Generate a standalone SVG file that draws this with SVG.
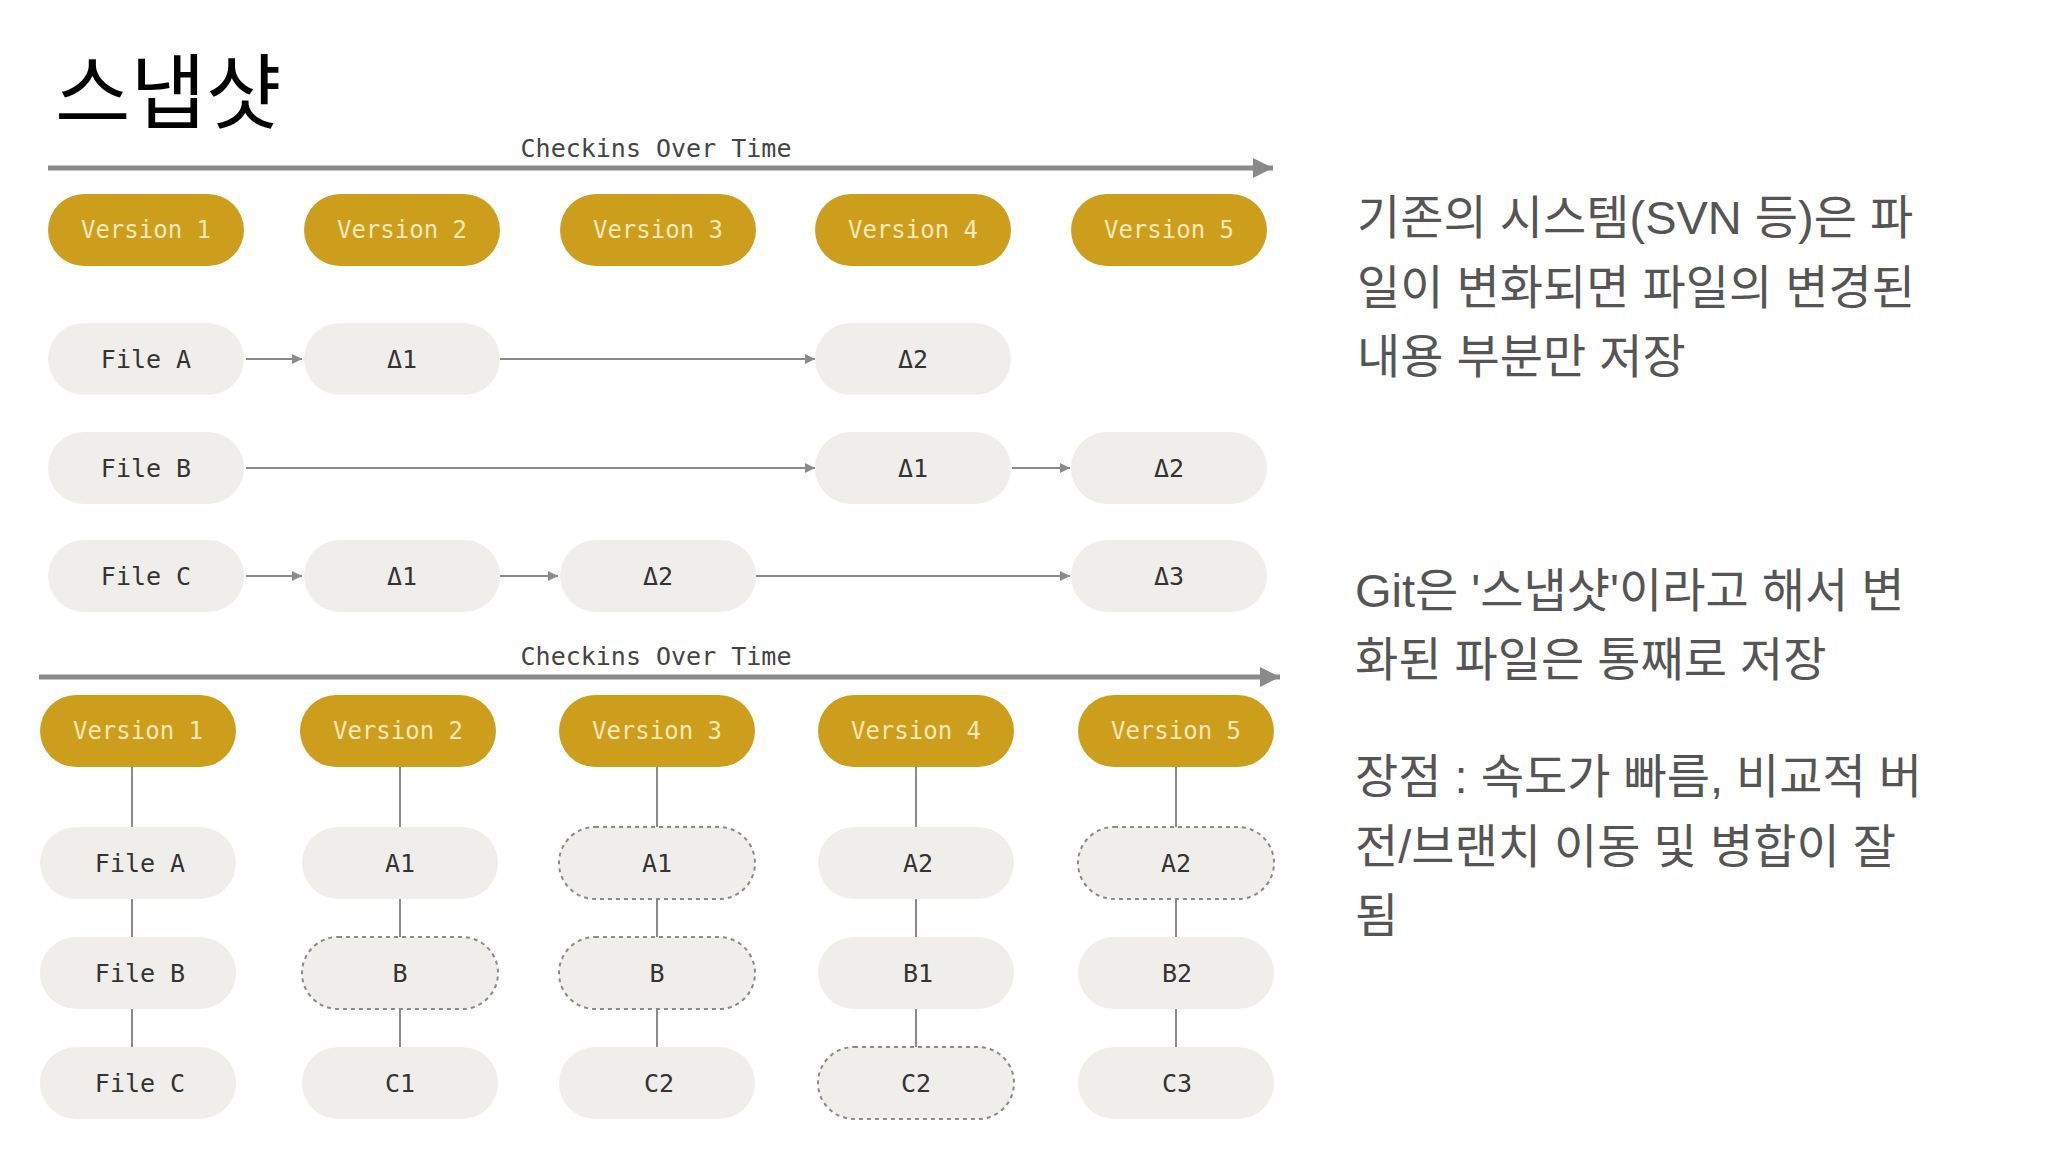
<svg xmlns="http://www.w3.org/2000/svg" width="2048" height="1152" viewBox="0 0 2048 1152">
<defs>
<marker id="ah" viewBox="0 0 10 10" refX="10" refY="5" markerWidth="5" markerHeight="5" orient="auto"><path d="M0,0 L10,5 L0,10 z" fill="#8a8a8a"/></marker>
<marker id="big" viewBox="0 0 10 10" refX="10" refY="5" markerWidth="4" markerHeight="4" orient="auto"><path d="M0,0 L10,5 L0,10 z" fill="#8a8a8a"/></marker>
</defs>
<style>
.v rect{fill:#cc9e1c}
.v text{fill:#f6e8b8;font-family:"DejaVu Sans Mono",monospace;font-size:24px;text-anchor:middle;dominant-baseline:central}
.f rect{fill:#f0eeea}
.f.d rect{stroke:#8a8a8a;stroke-width:2;stroke-dasharray:4 4}
.f text{fill:#333;font-family:"DejaVu Sans Mono",monospace;font-size:25px;text-anchor:middle;dominant-baseline:central}
.lbl{fill:#444;font-family:"DejaVu Sans Mono",monospace;font-size:25px;text-anchor:middle}
.k{fill:#555;font-family:"Liberation Sans","Noto Sans CJK KR",sans-serif;font-size:47px}
.c line{stroke:#8a8a8a;stroke-width:2}
.c line.a{marker-end:url(#ah)}
.c line.t{stroke-width:5;marker-end:url(#big)}
</style>
<rect width="2048" height="1152" fill="#fff"/>
<text x="55" y="122" font-family="Noto Sans CJK KR,sans-serif" font-size="82" fill="#000">스냅샷</text>
<text class="lbl" x="656" y="157">Checkins Over Time</text>
<text class="lbl" x="656" y="665">Checkins Over Time</text>
<g class="c">
<line class="t" x1="48" y1="168" x2="1273" y2="168"/>
<line class="t" x1="39" y1="677" x2="1280" y2="677"/>
<line class="a" x1="246" y1="359" x2="302" y2="359"/>
<line class="a" x1="500" y1="359" x2="815" y2="359"/>
<line class="a" x1="246" y1="468" x2="815" y2="468"/>
<line class="a" x1="1012" y1="468" x2="1070" y2="468"/>
<line class="a" x1="246" y1="576" x2="302" y2="576"/>
<line class="a" x1="500" y1="576" x2="558" y2="576"/>
<line class="a" x1="756" y1="576" x2="1070" y2="576"/>
<line x1="132" y1="767" x2="132" y2="1047"/>
<line x1="400" y1="767" x2="400" y2="1047"/>
<line x1="657" y1="767" x2="657" y2="1047"/>
<line x1="916" y1="767" x2="916" y2="1047"/>
<line x1="1176" y1="767" x2="1176" y2="1047"/>
</g>
<g id="tv1" class="v"><rect x="48" y="194" width="196" height="72" rx="36"/><text x="146" y="230">Version 1</text></g>
<g id="tv2" class="v"><rect x="304" y="194" width="196" height="72" rx="36"/><text x="402" y="230">Version 2</text></g>
<g id="tv3" class="v"><rect x="560" y="194" width="196" height="72" rx="36"/><text x="658" y="230">Version 3</text></g>
<g id="tv4" class="v"><rect x="815" y="194" width="196" height="72" rx="36"/><text x="913" y="230">Version 4</text></g>
<g id="tv5" class="v"><rect x="1071" y="194" width="196" height="72" rx="36"/><text x="1169" y="230">Version 5</text></g>
<g id="tfa" class="f"><rect x="48" y="323" width="196" height="72" rx="36"/><text x="146" y="359">File A</text></g>
<g id="ta1" class="f"><rect x="304" y="323" width="196" height="72" rx="36"/><text x="402" y="359">Δ1</text></g>
<g id="ta2" class="f"><rect x="815" y="323" width="196" height="72" rx="36"/><text x="913" y="359">Δ2</text></g>
<g id="tfb" class="f"><rect x="48" y="432" width="196" height="72" rx="36"/><text x="146" y="468">File B</text></g>
<g id="tb1" class="f"><rect x="815" y="432" width="196" height="72" rx="36"/><text x="913" y="468">Δ1</text></g>
<g id="tb2" class="f"><rect x="1071" y="432" width="196" height="72" rx="36"/><text x="1169" y="468">Δ2</text></g>
<g id="tfc" class="f"><rect x="48" y="540" width="196" height="72" rx="36"/><text x="146" y="576">File C</text></g>
<g id="tc1" class="f"><rect x="304" y="540" width="196" height="72" rx="36"/><text x="402" y="576">Δ1</text></g>
<g id="tc2" class="f"><rect x="560" y="540" width="196" height="72" rx="36"/><text x="658" y="576">Δ2</text></g>
<g id="tc3" class="f"><rect x="1071" y="540" width="196" height="72" rx="36"/><text x="1169" y="576">Δ3</text></g>
<g id="bv1" class="v"><rect x="40" y="695" width="196" height="72" rx="36"/><text x="138" y="731">Version 1</text></g>
<g id="bv2" class="v"><rect x="300" y="695" width="196" height="72" rx="36"/><text x="398" y="731">Version 2</text></g>
<g id="bv3" class="v"><rect x="559" y="695" width="196" height="72" rx="36"/><text x="657" y="731">Version 3</text></g>
<g id="bv4" class="v"><rect x="818" y="695" width="196" height="72" rx="36"/><text x="916" y="731">Version 4</text></g>
<g id="bv5" class="v"><rect x="1078" y="695" width="196" height="72" rx="36"/><text x="1176" y="731">Version 5</text></g>
<g id="b1a" class="f"><rect x="40" y="827" width="196" height="72" rx="36"/><text x="140" y="863">File A</text></g>
<g id="b1b" class="f"><rect x="40" y="937" width="196" height="72" rx="36"/><text x="140" y="973">File B</text></g>
<g id="b1c" class="f"><rect x="40" y="1047" width="196" height="72" rx="36"/><text x="140" y="1083">File C</text></g>
<g id="b2a" class="f"><rect x="302" y="827" width="196" height="72" rx="36"/><text x="400" y="863">A1</text></g>
<g id="b2b" class="f d"><rect x="302" y="937" width="196" height="72" rx="36"/><text x="400" y="973">B</text></g>
<g id="b2c" class="f"><rect x="302" y="1047" width="196" height="72" rx="36"/><text x="400" y="1083">C1</text></g>
<g id="b3a" class="f d"><rect x="559" y="827" width="196" height="72" rx="36"/><text x="657" y="863">A1</text></g>
<g id="b3b" class="f d"><rect x="559" y="937" width="196" height="72" rx="36"/><text x="657" y="973">B</text></g>
<g id="b3c" class="f"><rect x="559" y="1047" width="196" height="72" rx="36"/><text x="659" y="1083">C2</text></g>
<g id="b4a" class="f"><rect x="818" y="827" width="196" height="72" rx="36"/><text x="918" y="863">A2</text></g>
<g id="b4b" class="f"><rect x="818" y="937" width="196" height="72" rx="36"/><text x="918" y="973">B1</text></g>
<g id="b4c" class="f d"><rect x="818" y="1047" width="196" height="72" rx="36"/><text x="916" y="1083">C2</text></g>
<g id="b5a" class="f d"><rect x="1078" y="827" width="196" height="72" rx="36"/><text x="1176" y="863">A2</text></g>
<g id="b5b" class="f"><rect x="1078" y="937" width="196" height="72" rx="36"/><text x="1177" y="973">B2</text></g>
<g id="b5c" class="f"><rect x="1078" y="1047" width="196" height="72" rx="36"/><text x="1177" y="1083">C3</text></g>
<text class="k" x="1357" y="234">기존의 시스템(SVN 등)은 파</text>
<text class="k" x="1357" y="304">일이 변화되면 파일의 변경된</text>
<text class="k" x="1357" y="373">내용 부분만 저장</text>
<text class="k" x="1355" y="607">Git은 '스냅샷'이라고 해서 변</text>
<text class="k" x="1355" y="676">화된 파일은 통째로 저장</text>
<text class="k" x="1355" y="793">장점 : 속도가 빠름, 비교적 버</text>
<text class="k" x="1355" y="863">전/브랜치 이동 및 병합이 잘</text>
<text class="k" x="1355" y="932">됨</text>
</svg>
